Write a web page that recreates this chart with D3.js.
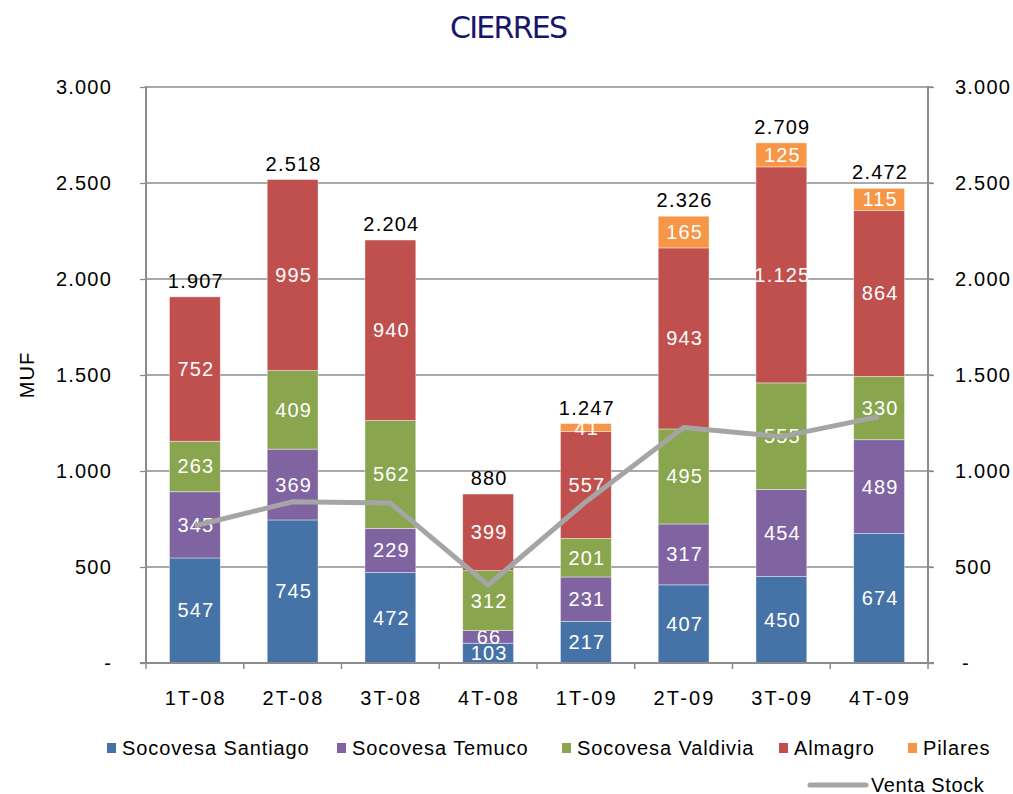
<!DOCTYPE html>
<html>
<head>
<meta charset="utf-8">
<script src="https://cdn.jsdelivr.net/npm/d3@7"></script>
<style>
  body { margin: 0; background: #fff; }
  svg text { font-family: "Liberation Sans", Arial, sans-serif; }
</style>
</head>
<body>
<div id="chart"></div>
<script>
// data
var quarters = ["1T-08", "2T-08", "3T-08", "4T-08", "1T-09", "2T-09", "3T-09", "4T-09"];
var seriesNames = ["Socovesa Santiago", "Socovesa Temuco", "Socovesa Valdivia", "Almagro", "Pilares"];
var santiago = [547, 745, 472, 103, 217, 407, 450, 674];
var temuco = [345, 369, 229, 66, 231, 317, 454, 489];
var valdivia = [263, 409, 562, 312, 201, 495, 555, 330];
var almagro = [752, 995, 940, 399, 557, 943, 1125, 864];
var pilares = [0, 0, 0, 0, 41, 165, 125, 115];
var totals = [1907, 2518, 2204, 880, 1247, 2326, 2709, 2472];
var ventaStock = [715, 840, 833, 406, 840, 1226, 1179, 1283];
var yTicks = [0, 500, 1000, 1500, 2000, 2500, 3000];

var colors = ["#4572A7", "#8064A2", "#89A54E", "#C0504D", "#F79646"];

var width = 1013, height = 794;
var pLeft = 146, pRight = 928, pTop = 87, pBottom = 663;
var axisColor = "#8c8c8c";

var svg = d3.select("#chart").append("svg")
    .attr("width", width)
    .attr("height", height);

var loc = d3.formatLocale({decimal: ",", thousands: ".", grouping: [3], currency: ["", ""]});
var fmt = loc.format(",d");

var rows = quarters.map(function(q, i) {
  return {q: q, s0: santiago[i], s1: temuco[i], s2: valdivia[i], s3: almagro[i], s4: pilares[i]};
});
var keys = ["s0", "s1", "s2", "s3", "s4"];
var stacked = d3.stack().keys(keys)(rows);

var x = d3.scaleBand().domain(quarters).range([pLeft, pRight]).paddingInner(0.48).paddingOuter(0.24);
var y = d3.scaleLinear().domain([0, 3000]).range([pBottom, pTop]);

// title
svg.append("text")
    .attr("x", 509).attr("y", 38)
    .attr("text-anchor", "middle")
    .style("font-size", "30px")
    .style("font-family", "'DejaVu Sans', sans-serif")
    .attr("textLength", 118)
    .attr("fill", "#16166b")
    .text("CIERRES");

// grid lines
svg.append("g").selectAll("line")
    .data(yTicks.filter(function(d) { return d > 0; }))
  .enter().append("line")
    .attr("x1", pLeft).attr("x2", pRight + 5)
    .attr("y1", function(d) { return y(d); })
    .attr("y2", function(d) { return y(d); })
    .attr("stroke", axisColor)
    .attr("stroke-width", 1.3);

// left and right axes
var tf = function(d) { return d === 0 ? "-" : fmt(d); };
var gL = svg.append("g").attr("transform", "translate(" + pLeft + ",0)")
    .call(d3.axisLeft(y).tickValues(yTicks).tickSize(6).tickPadding(28).tickFormat(tf));
gL.select(".domain").remove();
gL.selectAll("line").attr("stroke", axisColor).attr("stroke-width", 1.3);
gL.selectAll("text").style("font-size", "20px").style("letter-spacing", "1.2px").attr("fill", "#000");

var gR = svg.append("g").attr("transform", "translate(" + pRight + ",0)")
    .call(d3.axisRight(y).tickValues(yTicks).tickSize(6).tickPadding(27).tickFormat(tf));
gR.select(".domain").remove();
gR.selectAll("line").attr("stroke", axisColor).attr("stroke-width", 1.3);
gR.selectAll("text").style("font-size", "20px").style("letter-spacing", "1.2px").attr("fill", "#000")
    .attr("x", function(d) { return d === 0 ? 34 : 27; });

// bars
var layer = svg.append("g").selectAll("g")
    .data(stacked)
  .enter().append("g")
    .attr("fill", function(d, i) { return colors[i]; });

layer.selectAll("rect")
    .data(function(d) { return d.filter(function(p) { return p[1] - p[0] > 0; }); })
  .enter().append("rect")
    .attr("x", function(d) { return x(d.data.q); })
    .attr("width", x.bandwidth())
    .attr("y", function(d) { return y(d[1]); })
    .attr("height", function(d) { return y(d[0]) - y(d[1]); })
    .attr("stroke", "#ffffff")
    .attr("stroke-opacity", 0.5)
    .attr("stroke-width", 0.8);

// axis frame
svg.append("line")
    .attr("x1", pLeft).attr("x2", pLeft).attr("y1", pTop - 1).attr("y2", pBottom)
    .attr("stroke", axisColor).attr("stroke-width", 2);
svg.append("line")
    .attr("x1", pRight).attr("x2", pRight).attr("y1", pTop - 1).attr("y2", pBottom)
    .attr("stroke", axisColor).attr("stroke-width", 2);
svg.append("line")
    .attr("x1", pLeft - 6).attr("x2", pRight + 6).attr("y1", pBottom).attr("y2", pBottom)
    .attr("stroke", axisColor).attr("stroke-width", 2);

// category ticks
svg.append("g").selectAll("line")
    .data(d3.range(quarters.length + 1))
  .enter().append("line")
    .attr("x1", function(i) { return pLeft + i * x.step(); })
    .attr("x2", function(i) { return pLeft + i * x.step(); })
    .attr("y1", pBottom).attr("y2", pBottom + 6)
    .attr("stroke", axisColor).attr("stroke-width", 1.5);

// category labels
svg.append("g").selectAll("text")
    .data(quarters)
  .enter().append("text")
    .attr("x", function(d) { return x(d) + x.bandwidth() / 2 + 1; })
    .attr("y", 705)
    .attr("text-anchor", "middle")
    .style("font-size", "20px")
    .style("letter-spacing", "2.2px")
    .text(function(d) { return d; });

// segment labels
layer.selectAll("text")
    .data(function(d) { return d.filter(function(p) { return p[1] - p[0] > 0; }); })
  .enter().append("text")
    .attr("x", function(d) { return x(d.data.q) + x.bandwidth() / 2 + 1; })
    .attr("y", function(d) { return (y(d[0]) + y(d[1])) / 2 + 7; })
    .attr("text-anchor", "middle")
    .attr("fill", "#fff")
    .style("font-size", "20px")
    .style("letter-spacing", "1.2px")
    .text(function(d) { return fmt(d[1] - d[0]); });

// totals
svg.append("g").selectAll("text")
    .data(quarters)
  .enter().append("text")
    .attr("x", function(d) { return x(d) + x.bandwidth() / 2 + 1; })
    .attr("y", function(d, i) { return y(d3.sum(keys, function(k) { return rows[i][k]; })) - 9; })
    .attr("text-anchor", "middle")
    .attr("fill", "#000")
    .style("font-size", "20px")
    .style("letter-spacing", "1.2px")
    .text(function(d, i) { return fmt(totals[i]); });

// venta stock line
var line = d3.line()
    .x(function(d, i) { return x(quarters[i]) + x.bandwidth() / 2; })
    .y(function(d) { return y(d); });
svg.append("path")
    .datum(ventaStock)
    .attr("d", line)
    .attr("fill", "none")
    .attr("stroke", "#a5a5a5")
    .attr("stroke-width", 5)
    .attr("stroke-linejoin", "round");

// y title
svg.append("text")
    .attr("transform", "translate(34,375) rotate(-90)")
    .attr("text-anchor", "middle")
    .style("font-size", "20px")
    .style("letter-spacing", "1px")
    .text("MUF");

// legend
var legendX = [107, 337, 562, 779, 908];
var legend = svg.append("g").selectAll("g")
    .data(seriesNames)
  .enter().append("g")
    .attr("transform", function(d, i) { return "translate(" + legendX[i] + ",748)"; });
legend.append("rect")
    .attr("x", 0).attr("y", -5).attr("width", 9).attr("height", 10)
    .attr("fill", function(d, i) { return colors[i]; });
legend.append("text")
    .attr("x", 15).attr("y", 7)
    .style("font-size", "20px")
    .style("letter-spacing", "0.9px")
    .text(function(d) { return d; });

var lg = svg.append("g").attr("transform", "translate(810,785)");
lg.append("line")
    .attr("x1", 0).attr("x2", 56).attr("y1", 0).attr("y2", 0)
    .attr("stroke", "#a5a5a5").attr("stroke-width", 5).attr("stroke-linecap", "round");
lg.append("text")
    .attr("x", 61).attr("y", 7)
    .style("font-size", "20px")
    .style("letter-spacing", "0.6px")
    .text("Venta Stock");
</script>
</body>
</html>
